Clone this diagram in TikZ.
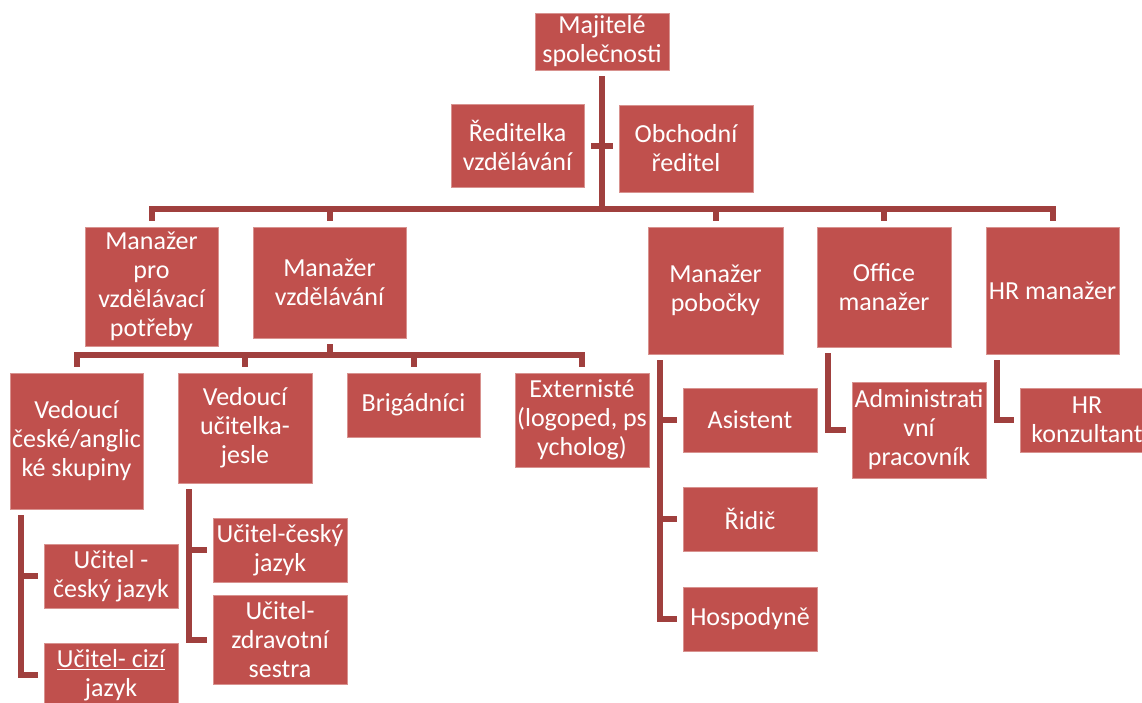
\documentclass[tikz,border=0pt]{standalone}
\usepackage{fontspec}
\setmainfont{Carlito}
\usepackage{xcolor}
\usepackage{tikz}
\definecolor{boxred}{HTML}{C0504D}
\definecolor{boxedge}{HTML}{D8928F}
\definecolor{linered}{HTML}{A0403E}

\tikzset{
  orgbox/.style={fill=boxred, draw=boxedge, line width=0.8pt, text=white,
    align=center, inner sep=0pt, font=\fontsize{26}{29}\selectfont},
  conn/.style={draw=linered, line width=6pt}
}

\begin{document}
\begin{tikzpicture}[x=1pt, y=-1pt]
\useasboundingbox (0,0) rectangle (1142,702);
\clip (0,0) rectangle (1142,702);

% top
\node[orgbox, minimum width=134pt, minimum height=57pt] (owner) at (602,41.5) {Majitelé\\společnosti};
\node[orgbox, minimum width=133pt, minimum height=83pt] (dirE) at (517.5,145.5) {Ředitelka\\vzdělávání};
\node[orgbox, minimum width=134pt, minimum height=87pt] (dirS) at (686,148.5) {Obchodní\\ředitel};

% managers
\node[orgbox, minimum width=133pt, minimum height=119pt] (mgrA) at (151.5,286.5) {Manažer\\pro\\vzdělávací\\potřeby};
\node[orgbox, minimum width=153pt, minimum height=111pt] (mgrE) at (329.5,282.5) {Manažer\\vzdělávání};
\node[orgbox, minimum width=135pt, minimum height=127pt] (branch) at (715.5,290.5) {Manažer\\pobočky};
\node[orgbox, minimum width=134pt, minimum height=120pt] (office) at (884,287) {Office\\manažer};
\node[orgbox, minimum width=133pt, minimum height=127pt] (hrm) at (1052.5,290.5) {HR manažer};

% under education manager
\node[orgbox, minimum width=133pt, minimum height=136pt] (leadA) at (76.5,441) {Vedoucí\\české/anglic\\ké skupiny};
\node[orgbox, minimum width=134pt, minimum height=110pt] (leadB) at (245,428) {Vedoucí\\učitelka-\\jesle};
\node[orgbox, minimum width=133pt, minimum height=64pt] (brig) at (413.5,405) {Brigádníci};
\node[orgbox, minimum width=134pt, minimum height=94pt] (ext) at (582,420) {Externisté\\(logoped, ps\\ycholog)};

% teachers
\node[orgbox, minimum width=134pt, minimum height=64pt] (uc1) at (111,576) {Učitel -\\český jazyk};
\node[orgbox, minimum width=134pt, minimum height=64pt] (uc2) at (111,675) {\underline{Učitel- cizí}\\jazyk};
\node[orgbox, minimum width=134pt, minimum height=64pt] (ut1) at (280,550) {Učitel-český\\jazyk};
\node[orgbox, minimum width=134pt, minimum height=89pt] (ut2) at (280,639.5) {Učitel-\\zdravotní\\sestra};

% branch, office, HR staff
\node[orgbox, minimum width=134pt, minimum height=64pt] (asist) at (750,420) {Asistent};
\node[orgbox, minimum width=134pt, minimum height=64pt] (ridic) at (750,519) {Řidič};
\node[orgbox, minimum width=134pt, minimum height=64pt] (hosp) at (750,619) {Hospodyně};
\node[orgbox, minimum width=134pt, minimum height=96pt] (admin) at (919,430) {Administrati\\vní\\pracovník};
\node[orgbox, minimum width=134pt, minimum height=64pt] (hrk) at (1087,420) {HR\\konzultant};

% connectors
\coordinate (bus) at (602,209);
\coordinate (bus2) at (329.5,355);
\draw[conn] ([yshift=-6pt]owner.south) -- (bus);
\draw[conn] ([xshift=7pt]dirE.east) -- ([xshift=-6pt]dirE.east -| dirS.west);
\draw[conn] ([yshift=6pt]mgrA.north) -- (bus -| mgrA.north) -- (bus -| hrm.north) -- ([yshift=6pt]hrm.north);
\foreach \n in {mgrE,branch,office}
  \draw[conn] (bus -| \n.north) -- ([yshift=6pt]\n.north);

\draw[conn] ([yshift=-6pt]mgrE.south) -- (bus2);
\draw[conn] ([yshift=6pt]leadA.north) -- (bus2 -| leadA.north) -- (bus2 -| ext.north) -- ([yshift=6pt]ext.north);
\foreach \n in {leadB,brig}
  \draw[conn] (bus2 -| \n.north) -- ([yshift=6pt]\n.north);

\foreach \n in {uc1,uc2}
  \draw[conn] ([xshift=11pt,yshift=-6pt]leadA.south west) |- ([xshift=-6pt]\n.west);
\foreach \n in {ut1,ut2}
  \draw[conn] ([xshift=11pt,yshift=-6pt]leadB.south west) |- ([xshift=-6pt]\n.west);
\foreach \n in {asist,ridic,hosp}
  \draw[conn] ([xshift=12pt,yshift=-6pt]branch.south west) |- ([xshift=-6pt]\n.west);
\draw[conn] ([xshift=11pt,yshift=-6pt]office.south west) |- ([xshift=-6pt]admin.west);
\draw[conn] ([xshift=11pt,yshift=-6pt]hrm.south west) |- ([xshift=-6pt]hrk.west);
\end{tikzpicture}
\end{document}
